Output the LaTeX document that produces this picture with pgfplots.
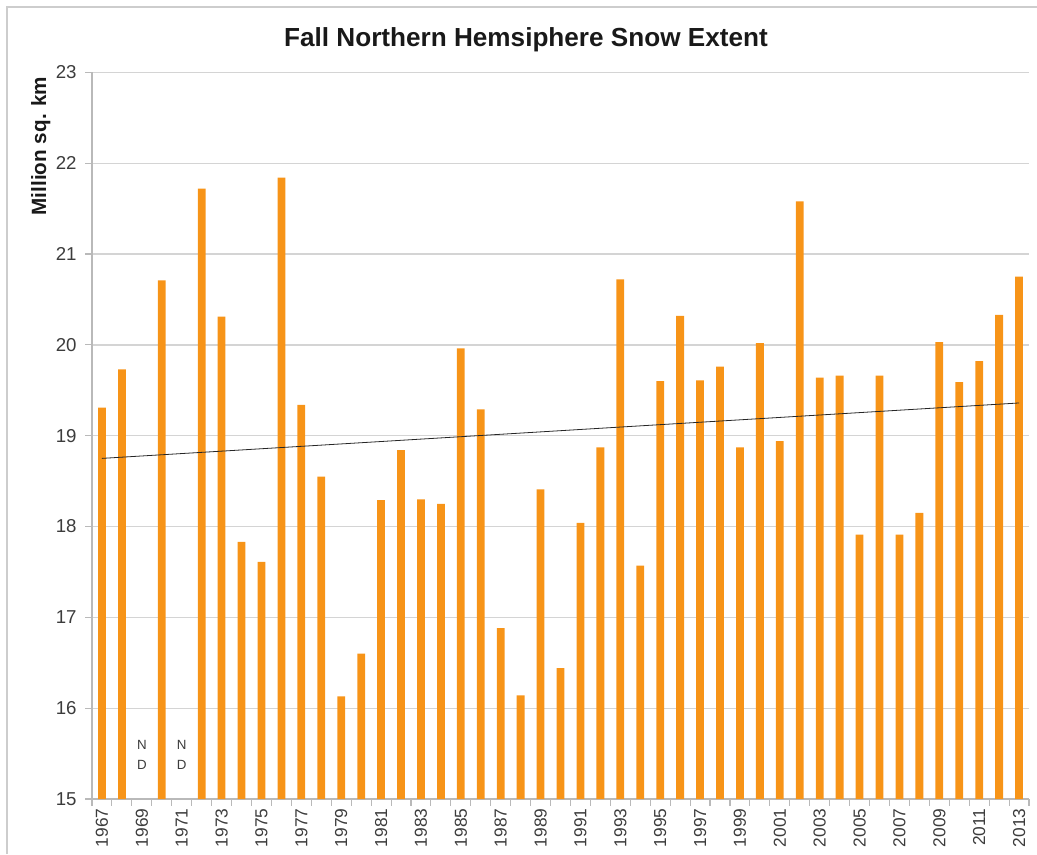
\documentclass[border=0pt]{standalone}
\usepackage{fontspec}
\setmainfont{Liberation Sans}
\usepackage{pgfplots}
\usepackage{pgfplotstable}
\pgfplotsset{compat=1.18}
\definecolor{barorange}{RGB}{247,148,24}
\definecolor{gridgray}{RGB}{212,212,212}
\definecolor{axisgray}{RGB}{185,185,185}
\definecolor{labelgray}{RGB}{60,60,60}
\definecolor{framegray}{RGB}{205,205,205}
\pgfplotstableread{
year value
1967 19.31
1968 19.73
1970 20.71
1972 21.72
1973 20.31
1974 17.83
1975 17.61
1976 21.84
1977 19.34
1978 18.55
1979 16.13
1980 16.60
1981 18.29
1982 18.84
1983 18.30
1984 18.25
1985 19.96
1986 19.29
1987 16.88
1988 16.14
1989 18.41
1990 16.44
1991 18.04
1992 18.87
1993 20.72
1994 17.57
1995 19.60
1996 20.32
1997 19.61
1998 19.76
1999 18.87
2000 20.02
2001 18.94
2002 21.58
2003 19.64
2004 19.66
2005 17.91
2006 19.66
2007 17.91
2008 18.15
2009 20.03
2010 19.59
2011 19.82
2012 20.33
2013 20.75
}\snowdata
\begin{document}
\begin{tikzpicture}
\useasboundingbox (0pt,0pt) rectangle (777.75pt,640.5pt);
\draw[framegray, line width=1.5pt] (4.875pt,0pt) -- (4.875pt,634.875pt) -- (777.75pt,634.875pt);
\node[font=\bfseries\fontsize{19.6}{21}\selectfont, text=black!90] at (394.5pt,610.5pt) {Fall Northern Hemsiphere Snow Extent};
\node[font=\bfseries\fontsize{15.5}{17}\selectfont, rotate=90, text=black!90] at (30.5pt,531pt) {Million sq. km};
\begin{axis}[
  at={(69pt,41.25pt)}, anchor=south west,
  scale only axis,
  width=702.75pt, height=545pt,
  xmin=1966.5, xmax=2013.5,
  ymin=15, ymax=23,
  ytick={15,16,...,23},
  xtick={1967,1969,...,2013},
  minor xtick={1966.5,1967.5,...,2013.5},
  major x tick style={draw=none},
  minor x tick style={axisgray, line width=0.8pt},
  minor tick length=5pt,
  major tick length=5pt,
  y tick style={axisgray, line width=0.8pt},
  tick align=outside,
  axis x line*=bottom, axis y line*=left,
  axis line style={axisgray, line width=1pt, -},
  ymajorgrids,
  grid style={gridgray, line width=1pt},
  xticklabel style={rotate=90, anchor=east, font=\fontsize{13}{15}\selectfont, text=labelgray, inner sep=2pt},
  yticklabel style={font=\fontsize{14}{16}\selectfont, text=labelgray, xshift=-3pt},
  /pgf/number format/assume math mode=true,
  xticklabel={\pgfmathprintnumber[1000 sep={}]{\tick}},
  yticklabel={\pgfmathprintnumber{\tick}},
  ybar, bar width=0.39,
  clip=true,
]
\addplot[fill=barorange, draw=none] table[x=year, y=value] {\snowdata};
\addplot[sharp plot, black!85, line width=0.6pt] coordinates {(1967,18.75) (2013,19.36)};
\node[font=\fontsize{10}{11}\selectfont, text=labelgray] at (axis cs:1969,15.60) {N};
\node[font=\fontsize{10}{11}\selectfont, text=labelgray] at (axis cs:1969,15.37) {D};
\node[font=\fontsize{10}{11}\selectfont, text=labelgray] at (axis cs:1971,15.60) {N};
\node[font=\fontsize{10}{11}\selectfont, text=labelgray] at (axis cs:1971,15.37) {D};
\end{axis}
\end{tikzpicture}
\end{document}
